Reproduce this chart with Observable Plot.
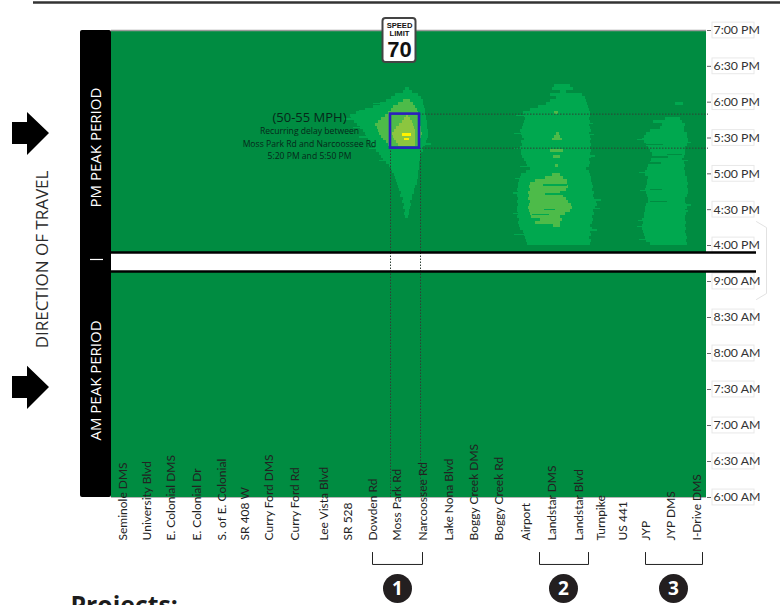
<!DOCTYPE html>
<html><head><meta charset="utf-8">
<style>html,body{margin:0;padding:0;background:#fff;overflow:hidden}svg{display:block}</style>
<script src="https://cdn.jsdelivr.net/npm/d3@7"></script>
<script src="https://cdn.jsdelivr.net/npm/@observablehq/plot@0.6"></script>
</head><body><div id="chart"></div>
<script>
// Station names and their position along the corridor
const stationNames = ["Seminole DMS","University Blvd","E. Colonial DMS","E. Colonial Dr","S. of E. Colonial","SR 408 W","Curry Ford DMS","Curry Ford Rd","Lee Vista Blvd","SR 528","Dowden Rd","Moss Park Rd","Narcoossee Rd","Lake Nona Blvd","Boggy Creek DMS","Boggy Creek Rd","Airport","Landstar DMS","Landstar Blvd","Turnpike","US 441","JYP","JYP DMS","I-Drive DMS"];
const stationPos = [12,36,60,86,111,134,158,184,213,237,262,286,312,338,363,388,415,441,468,490,512,535,560,586];
// Time axis (minutes of the day)
const tickMinutes = [360,390,420,450,480,510,540,960,990,1020,1050,1080,1110,1140];
const tickLabels = ["6:00 AM","6:30 AM","7:00 AM","7:30 AM","8:00 AM","8:30 AM","9:00 AM","4:00 PM","4:30 PM","5:00 PM","5:30 PM","6:00 PM","6:30 PM","7:00 PM"];
// Speed bands: [minutes after 4:00 PM, from position, to position]
const mossL1 = [[22.5,294,297],[25,293,298],[27.5,294,298],[30,292,299],[32.5,293,300],[35,291,299],[37.5,292,301],[40,289,301],[42.5,290,303],[45,288,303],[47.5,287,304],[50,286,306],[52.5,285,306],[55,284,307],[57.5,283,307],[60,281,307],[62.5,280,308],[65,278,308],[67.5,275,308],[70,272,309],[72.5,270,309],[75,268,310],[77.5,265,312],[80,264,312],[82.5,261,314],[85,259,315],[87.5,257,316],[90,255,317],[92.5,254,317],[95,252,317],[97.5,249,316],[100,246,316],[102.5,243,316],[105,240,315],[107.5,239,315],[110,245,314],[112.5,254,314],[115,262,313],[117.5,269,312],[120,275,312],[122.5,280,310],[125,284,307],[127.5,292,301],[130,294,298]];
const mossSpikes = [[105,233,260],[98,242,260],[90,248,270],[80,258,270],[112,248,270],[118,262,280],[70,268,280],[84,290,320]];
const mossL2 = [[82.5,277,307],[85,275,308],[87.5,272,309],[90,270,310],[92.5,268,311],[95,267,310],[97.5,266,310],[100,264,309],[102.5,267,309],[105,270,308],[107.5,274,308],[110,277,307],[112.5,280,306],[115,282,304],[117.5,287,302],[120,292,299]];
const mossL3 = [[82.5,287,304],[85,285,304],[87.5,283,304],[90,282,304],[92.5,281,304],[95,283,304],[97.5,285,303],[100,288,302],[102.5,291,301],[105,293,299],[107.5,295,297]];
const mossL4 = [[87.5,293,298],[91.5,291,300]];
const landstarL1 = [[0,416,479],[2.5,415,480],[5,414,478],[7.5,413,480],[10,412,479],[12.5,409,481],[15,408,479],[17.5,407,481],[20,408,482],[22.5,406,481],[25,407,483],[27.5,406,482],[30,406,484],[32.5,407,486],[35,406,485],[37.5,407,483],[40,406,482],[42.5,407,483],[45,406,481],[47.5,407,482],[50,407,481],[52.5,408,480],[55,409,480],[57.5,410,479],[60,415,478],[62.5,419,475],[65,416,478],[67.5,415,479],[70,413,478],[72.5,411,480],[75,410,479],[77.5,410,480],[80,409,479],[82.5,411,480],[85,410,479],[87.5,413,480],[90,411,479],[92.5,410,478],[95,409,480],[97.5,411,479],[100,412,478],[102.5,413,479],[105,414,478],[107.5,413,479],[110,412,479],[112.5,419,478],[115,427,477],[117.5,435,476],[120,439,475],[122.5,445,474],[125,439,471],[127.5,449,455],[130,441,462],[132.5,443,459]];
const landstarSpikes = [[8,403,420],[26,402,420],[43,402,420],[55,404,420],[80,403,420],[93,403,420],[108,405,420],[65,409,420],[12,470,486],[30,470,489],[37,470,490],[74,470,484],[92,470,483],[101,470,482]];
const landstarL2 = [[15,442,449],[17.5,424,449],[20,429,451],[22.5,420,449],[25,419,454],[27.5,418,459],[30,417,461],[32.5,418,460],[35,419,457],[37.5,417,455],[40,418,452],[42.5,417,449],[45,419,455],[47.5,418,457],[50,419,456],[52.5,424,456],[55,434,452],[57.5,441,449],[65,444,447],[72.5,442,449],[77.5,439,452],[87.5,441,451],[90,443,449],[92.5,445,448],[110,443,447]];
const landstarNotches = [[49.4,432,456],[42,434,454],[25,421,438],[29,433,444]];
const jypL1 = [[0,539,576],[2.5,535,575],[5,534,576],[7.5,533,575],[10,532,574],[12.5,531,575],[15,531,574],[17.5,532,575],[20,531,574],[22.5,533,574],[25,533,575],[27.5,534,574],[30,534,576],[32.5,535,575],[35,537,574],[37.5,537,574],[40,536,576],[42.5,535,577],[45,534,577],[47.5,535,576],[50,536,577],[52.5,536,576],[55,537,576],[57.5,534,574],[60,534,574],[62.5,536,573],[65,537,574],[67.5,539,573],[70,540,571],[72.5,541,573],[75,541,574],[77.5,539,574],[80,537,574],[82.5,535,576],[85,533,577],[87.5,531,577],[90,533,576],[92.5,535,576],[95,539,573],[97.5,549,573],[100,551,574],[102.5,542,571],[105,554,569],[117.5,564,572]];
const jypSpikes = [[4,528,545],[15,526,545],[20,527,545],[45,529,545],[60,528,545],[88,526,545],[85,560,580],[28,560,577],[33,560,580],[70,560,577]];
const jypNotches = [[83.8,531,552],[36,539,556],[46,539,551],[73,541,557],[75,556,571],[68,539,550]];
const bandColors = {l0:"#008C41",l1:"#00A84F",l2:"#4DBB49",l3:"#8CC63F",l4:"#FFF200"};

// Annotation and decoration values
const noteLines = [["(50-55 MPH)",1067,13],["Recurring delay between",1055.5,8.6],["Moss Park Rd and Narcoossee Rd",1045,8.6],["5:20 PM and 5:50 PM",1035,8.6]];
const brackets = [[261,311],[428,477],[534,591]];
const projectDots = [[286,"1"],[452,"2"],[562,"3"]];
const arrowShape = [[-99,9.2,-9.2],[-84,9.2,-9.2],[-84,17.6,-18.4],[-62,0,0]];
const arrowCentres = [1053.8,451.7];
const signLines = [["SPEED",1144.3,7.6],["LIMIT",1137.6,7.6],["70",1123.5,22]];

const t = m => m + 960;
const rows = (arr,h) => arr.map(([m,a,b]) => ({y1:t(m),y2:t(m+h),x1:a,x2:b}));
const bands = (arr, fill, h=2.5) => Plot.rect(rows(arr,h), {x1:"x1",x2:"x2",y1:"y1",y2:"y2",fill,shapeRendering:"crispEdges"});
const labelFont = "'Open Sans',sans-serif";
const axisFont = "Lato,sans-serif";
const dash = {stroke:"#2f4036",strokeWidth:1,strokeDasharray:"1.5,1.5"};
const chart = Plot.plot({
  width:780,height:605,marginLeft:111,marginRight:74,marginTop:30,marginBottom:108,
  style:{background:"#fff",fontFamily:labelFont,overflow:"hidden"},
  x:{type:"linear",domain:[0,595],range:[111,706],axis:null},
  y:{type:"linear",domain:[360,540,548.4,954,960,1140],range:[497,281,271,252,245,30],axis:null},
  marks:[
    // top page rule
    Plot.ruleY([1163.5],{x1:-78,x2:669,stroke:"#333",strokeWidth:2.5}),
    // label boxes
    Plot.rect(tickMinutes,{x1:601,x2:643,y1:d=>d-6.6,y2:d=>d+6.6,fill:"#fff",stroke:"#e8e8e8",strokeWidth:1}),
    // green background
    Plot.rect([[360,548.4],[954,1140]],{x1:0,x2:595,y1:d=>d[0],y2:d=>d[1],fill:bandColors.l0}),
    bands(mossL1,bandColors.l1),bands(landstarL1,bandColors.l1),bands(jypL1,bandColors.l1),
    bands(mossSpikes,bandColors.l1,1.1),bands(landstarSpikes,bandColors.l1,1.1),bands(jypSpikes,bandColors.l1,1.1),
    bands(jypNotches,bandColors.l0,1.1),
    bands(mossL2,bandColors.l2),bands(landstarL2,bandColors.l2),
    bands(landstarNotches,bandColors.l1,1.3),
    bands(mossL3,bandColors.l3),bands(mossL4,bandColors.l4),
    Plot.ruleY([1140],{x1:0,x2:595,stroke:"#9a9a9a",strokeWidth:1.5}),
    Plot.ruleY([360],{x1:0,x2:595,stroke:"#b5b5b5",strokeWidth:1}),
    // dotted guides
    Plot.ruleX([279,309],{y1:360,y2:1041,...dash}),
    Plot.ruleY([1070,1041.5],{x1:308,x2:597,...dash}),
    // period divider
    Plot.ruleY([954,548.4],{x1:-2,x2:645,stroke:"#000",strokeWidth:2.6}),
    Plot.line([[645,980],[655,975],[655,530],[645,525]],{x:d=>d[0],y:d=>d[1],stroke:"#e2e2e2",strokeWidth:1}),
    // black side bar
    Plot.rect([0],{x1:-31,x2:0,y1:360,y2:1140,fill:"#000",rx:2}),
    Plot.ruleY([805],{x1:-21,x2:-8,stroke:"#fff",strokeWidth:1.2}),
    Plot.text(["PM PEAK PERIOD"],{x:-15,y:1042,rotate:-90,fill:"#fff",fontSize:15,fontFamily:labelFont}),
    Plot.text(["AM PEAK PERIOD"],{x:-15,y:457.5,rotate:-90,fill:"#fff",fontSize:15,fontFamily:labelFont}),
    Plot.text(["DIRECTION OF TRAVEL"],{x:-69,y:805,rotate:-90,fill:"#2b2b2b",fontSize:17,fontFamily:labelFont}),
    // direction arrows
    ...arrowCentres.map(c=>Plot.areaY(arrowShape,{x:d=>d[0],y1:d=>c+d[1],y2:d=>c+d[2],fill:"#000"})),
    // blue recurring-delay box
    Plot.rect([0],{x1:279,x2:308,y1:1041.5,y2:1070,fill:"none",stroke:"#2B1FBE",strokeWidth:2.6}),
    // annotation
    Plot.text(noteLines,{x:198,y:d=>d[1],text:d=>d[0],fontSize:d=>d[2],fill:"#06281a",fontFamily:labelFont}),
    // speed limit sign
    Plot.rect([0],{x1:271.5,x2:304.5,y1:1113.3,y2:1150,fill:"#fff",stroke:"#444",strokeWidth:2,rx:3}),
    Plot.text(signLines,{x:288,y:d=>d[1],text:d=>d[0],fontSize:d=>d[2],fontWeight:"bold",fill:"#111",fontFamily:"'Liberation Sans',sans-serif"}),
    // station labels
    Plot.text(stationNames,{x:(d,i)=>stationPos[i],y:()=>324.2,rotate:-90,textAnchor:"start",fontSize:12,fill:"#222",fontFamily:axisFont}),
    // project brackets
    ...brackets.map(([a,b])=>Plot.line([[a,314.2],[a,304.2],[b,304.2],[b,314.2]],{x:d=>d[0],y:d=>d[1],stroke:"#222",strokeWidth:1})),
    Plot.dot(projectDots,{x:d=>d[0],y:()=>284.2,r:14.5,fill:"#231F20"}),
    Plot.text(projectDots,{x:d=>d[0],y:()=>284.2,text:d=>d[1],fill:"#fff",fontSize:19,fontWeight:"bold",fontFamily:labelFont}),
    Plot.text(["Projects:"],{x:-41,y:269.5,textAnchor:"start",fontSize:24.8,fontWeight:"bold",fill:"#1c1c1c",fontFamily:labelFont}),
    // time axis
    Plot.axisY(tickMinutes,{anchor:"right",tickSize:4,tickPadding:3,label:null,stroke:"#666",fill:"#333",fontSize:12.3,fontFamily:axisFont,tickFormat:d=>tickLabels[tickMinutes.indexOf(d)]})
  ]
});
document.getElementById("chart").append(chart);
</script></body></html>
